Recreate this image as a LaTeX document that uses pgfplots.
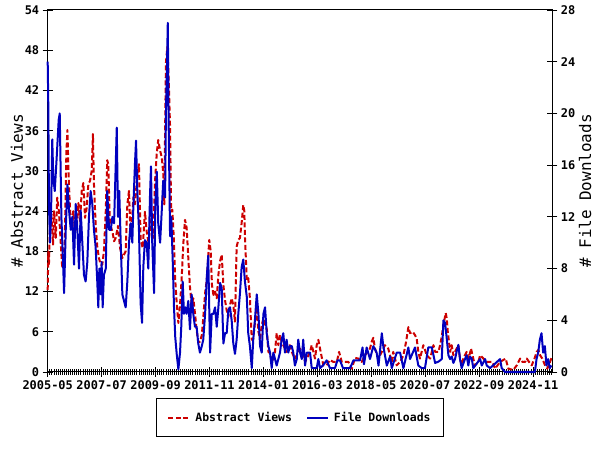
\documentclass[border=0pt]{standalone}
\usepackage{fontspec}
\setmainfont{DejaVu Sans Mono}
\usepackage{pgfplots}
\pgfplotsset{compat=1.18}
\usepackage{pgfplotstable}

\definecolor{viewsred}{RGB}{204,0,0}
\definecolor{dlblue}{RGB}{0,0,190}

% m = months since 2005-05
\pgfplotstableread{
m v
0 12.2
0.3 18
0.6 16
1.1 22
1.7 23.7
2.6 19
3.0 24
3.9 20
4.6 26
5.4 24
6.3 19.2
7.0 15.5
8.2 19
9.0 32.7
9.5 36.1
10.1 29
10.8 24
11.6 21
12.3 24
13.2 21
14.0 21.5
14.8 25.2
15.6 22.5
16.4 27
17.2 28.2
18.0 23
18.8 24.5
19.6 28
20.4 28.5
21.2 30
21.8 35.5
22.3 28
23.1 22.2
23.9 18.7
24.7 17
25.6 16
26.3 16
27.1 18
28.0 24
28.7 31.6
29.2 31
30.0 22
31.2 21
32.0 19.5
32.8 20
33.9 21.8
34.9 18.5
36.0 17
36.8 17.5
37.6 18
38.4 25
39.2 27
40.0 20
40.8 23.5
41.3 26
42.1 25
43.2 29.5
44.0 31
44.8 19.7
45.8 18.5
46.9 23.9
47.7 21
48.5 19.5
49.3 21
50.1 23
50.9 20
51.7 28.2
52.6 32.7
53.3 34.6
54.2 33
55.0 32
55.7 29.7
56.2 25
57.0 46.1
57.7 48.5
58.3 44
59.0 36.6
59.5 24
60.1 24.2
60.8 20
61.4 14.2
62.2 10.3
63.0 7.3
63.8 10
64.6 14
65.4 19.2
66.2 22.7
67.0 21.5
67.8 17
68.6 12.7
69.4 10
70.2 11
71.0 8.8
71.8 6.3
72.6 4.5
73.4 4.5
74.3 5.5
75.0 8
75.9 11.8
76.7 13.7
77.9 19.7
78.6 18
79.2 13
79.9 11.5
80.7 12
81.5 11
82.3 14.5
83.1 16.5
83.9 17.5
84.7 13
85.5 10.7
86.3 9.2
87.1 8.2
87.9 10
88.7 11
89.5 10
90.3 7.5
91.1 18.7
91.9 19.7
92.7 20
93.5 22.2
94.3 24.9
94.8 24
95.1 20.2
96.0 13.7
96.7 14
97.5 11
98.4 4.8
99.1 5
99.9 7.3
100.8 9.7
101.6 6
102.4 5
103.2 7
104.0 8
104.8 7
105.6 6.5
106.4 3
107.2 2.8
108.0 1.5
108.8 2
109.6 3
110.4 5.8
111.2 4
112.0 5.5
112.8 4.5
113.6 4
114.4 3.5
115.2 3
116.0 3.5
116.8 4
117.7 3
118.4 2.5
119.2 2
120.1 2.5
120.8 3
121.7 3.5
122.5 2.5
123.2 3
124.1 1.5
124.9 2
125.7 2.5
126.5 3
127.3 4
128.1 3
128.9 2
129.7 4
130.5 4.8
131.3 3.5
132.9 1.0
134.5 1
136.1 1.8
137.7 1.5
139.4 1.5
140.5 3.0
141.8 1.5
143.4 1.5
145.0 1.5
146.6 0.5
148.2 2.1
149.8 2
151.4 1.5
153.0 2.5
155.4 3.5
156.2 4.5
157.0 5.1
157.8 3.5
159.4 2
161.1 3
162.6 4
164.2 3.5
165.9 1.5
166.6 3.0
168.3 1
169.9 1.5
171.5 2.5
172.8 4.5
173.9 6.7
174.7 5.8
176.0 6
177.1 5.5
177.9 5
178.7 3
179.5 2
180.3 3
181.1 4
182.8 2.5
184.4 2
186.0 4
186.8 3
188.4 3
189.2 4
190.0 5.3
190.8 7
191.9 8.8
192.4 8
192.9 6
193.5 4.5
194.0 3
194.8 4
195.6 2.5
196.4 3
197.2 3.5
198.0 4
198.8 2
199.6 1
200.4 2
201.2 2.5
202.0 3
202.8 2
203.6 2.8
204.1 3.5
205.2 2
206.0 1
207.6 1.5
208.5 2.5
210.1 2
211.7 1.5
213.3 1.5
214.4 1.5
215.7 0.5
218.1 1.5
220.8 2.0
222.1 0.5
224.5 0.3
226.2 1
227.8 2
228.9 1.5
230.2 1.5
231.0 2.0
232.1 1.5
233.4 1
234.7 2
235.8 3
236.6 3.3
237.4 2.5
238.5 2
239.8 1
240.9 0.5
242.2 1.5
243.0 2.2
}\views

\pgfplotstableread{
m d
0 24.0
0.3 20.5
0.6 13
1.1 10
1.6 12
2.2 18
2.7 15
3.4 14
4.3 16.5
5.3 19.5
5.8 20
6.6 12
7.4 8.5
7.9 6.1
8.7 11
9.5 14.5
10.3 12.5
11.1 11
11.9 12
12.7 8.3
13.5 13
14.3 11
15.1 8
15.9 12.5
16.7 10
17.5 7.5
18.3 7
19.1 8.5
19.9 12
20.7 14
21.5 13
22.3 11
23.1 9.7
23.9 7
24.4 5
24.9 8
25.6 6
26.0 8.5
26.5 5
27.1 7.5
28.0 8
28.7 14
29.6 11
30.4 11
31.2 12
32.0 11.5
32.8 16
33.3 18.9
33.9 12
34.5 14
35.2 10
36.0 6
36.8 5.5
37.6 5.0
38.4 7
39.2 10
40.0 11.5
40.8 10
41.3 12.8
42.1 16.2
42.6 17.9
43.2 14
44.0 11
44.8 5.3
45.5 3.8
46.1 8.1
46.9 10.2
47.7 10
48.5 8
49.3 13.5
49.8 15.9
50.4 10
51.3 6.1
51.9 13
52.6 15.5
53.3 11.5
54.2 10
55.0 12.5
55.7 14.8
56.6 13.5
57.0 20
57.5 23.6
57.9 27.0
58.3 19.5
59.0 10.5
59.6 12
60.3 8.5
60.9 5
61.5 2.7
62.2 1.4
63.0 0.2
63.8 1.5
64.4 3.5
65.1 7
65.7 4.5
66.4 5.0
67.0 4.5
67.8 5.5
68.6 3.3
69.4 6
70.2 4.5
71.0 3.5
71.8 3.5
72.6 2.2
73.4 1.5
74.3 2
75.0 2.5
75.9 4.5
76.7 7.3
77.4 9.0
78.3 1.5
79.1 4.5
79.9 4.5
80.7 5
81.5 3.5
82.3 5
83.1 6.9
83.9 6.5
84.7 2.2
85.5 3
86.3 3
87.1 4.8
87.9 5
88.7 4
89.5 2.2
90.3 1.4
91.1 2.5
91.9 4.5
92.7 6.1
93.5 8.1
94.3 8.7
95.1 7
96.0 5.8
96.7 3
97.5 2
98.4 0.3
99.1 2.5
99.9 4
100.8 6.0
101.6 4.5
102.4 2
103.2 1.5
104.0 4.5
104.8 5
105.6 3
106.4 2
107.2 1.5
108.0 0.3
108.8 1.5
109.6 1
110.4 0.5
112.0 1.5
112.8 2.5
113.6 3.0
114.4 1.5
115.2 2.5
116.0 1.5
116.8 2
117.7 2
118.4 1.5
119.2 0.5
120.1 1.0
120.8 2.5
121.7 1.5
122.5 1
123.2 2.5
124.1 0.5
124.9 1.5
126.5 1.5
127.3 0.3
129.7 0.3
130.5 1
131.3 0.3
132.7 0.5
134.5 0.9
136.1 0.3
138.5 0.3
139.7 0.9
140.9 0.9
142.4 0.3
145.8 0.3
147.4 0.9
149.1 0.9
150.6 0.9
151.8 1.9
152.5 0.6
153.8 1.9
155.4 1
157.0 2
158.6 1.5
159.5 0.5
161.1 3.0
161.8 2
163.5 0.5
165.1 1.2
165.9 0.3
168.3 1.5
169.9 1.5
171.5 0.3
173.9 1.9
174.7 1
177.1 1.9
178.7 0.5
180.3 0.3
181.9 0.3
183.5 1.9
185.2 1.9
186.8 0.7
188.4 0.8
190.0 1
190.8 4.0
191.6 3.8
192.4 2.6
193.2 1.3
194.0 1.0
194.8 1.2
195.6 0.7
196.4 1.0
197.2 1.6
198.0 2.1
198.8 1.0
199.6 0.3
201.2 1.0
202.0 1.3
202.8 0.5
203.6 1.2
204.5 1.0
205.2 0.3
208.5 1.0
209.3 0.5
210.9 1.0
211.7 0.5
213.3 0.3
218.1 1.0
218.9 0.3
220.5 0
234.9 0
235.7 1.0
236.5 1.5
237.3 2.5
238.1 3.0
238.9 1.5
239.7 2.0
240.5 0.5
241.3 1.0
242.1 0.3
242.9 0.5
}\downloads

\pgfplotsset{
  ssrn/.style={
    scale only axis, width=504.6bp, height=362bp,
    at={(47.7bp,78bp)}, anchor=south west,
    xmin=0, xmax=243.3, clip=false,
    tick align=center, major tick length=10bp, minor tick length=6bp,
    axis line style={line width=1bp},
    every tick/.style={black, line width=0.8bp},
    /pgf/number format/assume math mode=true,
    ticklabel style={font=\bfseries\fontsize{12}{12}\selectfont},
    label style={font=\fontsize{16}{16}\selectfont},
  },
  viewsline/.style={viewsred, line width=2bp, dash pattern=on 5bp off 2.5bp, line join=round},
  dlline/.style={dlblue, line width=2bp, line join=round},
}

\begin{document}
\begin{tikzpicture}
\useasboundingbox (0,0) rectangle (600bp,450bp);
\begin{axis}[ssrn,
  ymin=0, ymax=54, ytick={0,6,...,54},
  xtick={0,26,...,234},
  xticklabels={2005-05,2007-07,2009-09,2011-11,2014-01,2016-03,2018-05,2020-07,2022-09,2024-11},
  minor xtick={0,1,...,243},
  tick pos=left,
  ylabel={\# Abstract Views},
  ylabel style={at={(axis description cs:-0.061,0.5)}, anchor=center, rotate=0},
]
\addplot[viewsline] table[x=m, y=v] {\views};
\end{axis}
\begin{axis}[ssrn,
  ymin=0, ymax=28, ytick={0,4,...,28},
  axis y line*=right, axis x line=none,
  ylabel={\# File Downloads},
  ylabel style={at={(axis description cs:1.065,0.5)}, anchor=center, rotate=0},
  legend style={at={(0.5,-0.1257)}, anchor=center, legend columns=-1,
    draw=black, line width=1.2bp, inner xsep=11bp, inner ysep=11.5bp,
    font=\bfseries\fontsize{11.5}{12}\selectfont,
    /tikz/every even column/.append style={column sep=12bp},
    /tikz/every odd column/.append style={column sep=3bp}},
  legend image code/.code={\draw[#1] (0bp,0bp) -- (21bp,0bp);},
]
\addlegendimage{viewsline}
\addlegendentry{Abstract Views}
\addplot[dlline] table[x=m, y=d] {\downloads};
\addlegendentry{File Downloads}
\end{axis}
\end{tikzpicture}
\end{document}
